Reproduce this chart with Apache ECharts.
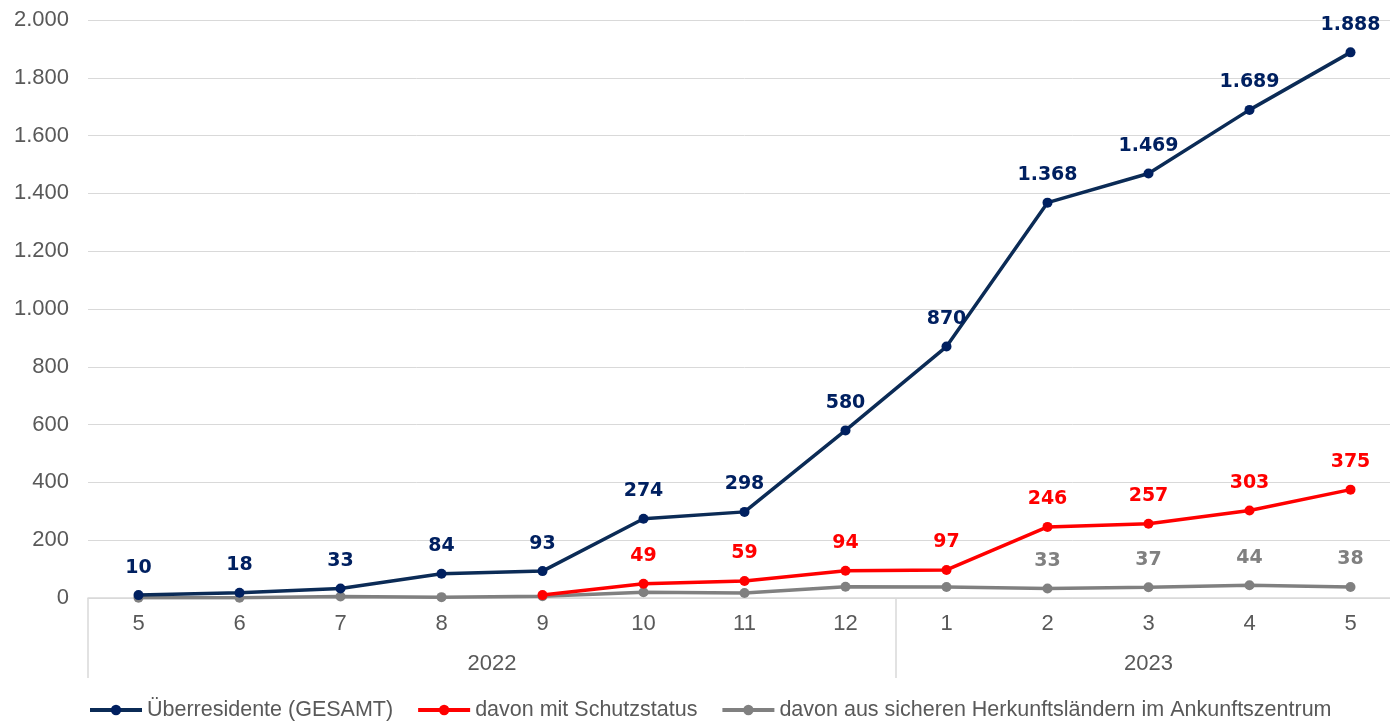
<!DOCTYPE html>
<html>
<head>
<meta charset="utf-8">
<script src="https://cdn.jsdelivr.net/npm/echarts@6/dist/echarts.min.js"></script>
<style>html,body{margin:0;padding:0;background:#fff;overflow:hidden;width:1390px;height:721px;}#c{width:1404px;height:721px;}</style>
</head>
<body>
<div id="c"></div>
<script>
const months = ['5','6','7','8','9','10','11','12','1','2','3','4','5'];
const years = [{label:'2022', pos:3.5},{label:'2023', pos:10}];
const gesamt = [10,18,33,84,93,274,298,580,870,1368,1469,1689,1888];
const schutz = [null,null,null,null,10,49,59,94,97,246,257,303,375];
const sicher = [1,1,5,3,6,20,17,39,38,33,37,44,38];
const yTicks = [0,200,400,600,800,1000,1200,1400,1600,1800,2000];

function fmtDE(v){return String(v).replace(/\B(?=(\d{3})+(?!\d))/g,'.');}
const FONT = "'Liberation Sans',Arial,sans-serif";
const BFONT = "'DejaVu Sans',sans-serif";
const chart = echarts.init(document.getElementById('c'));
const yearMap = {}; years.forEach(y=>{yearMap[y.pos]=y.label;});

chart.setOption({
  animation:false,
  grid:{left:88,right:0,top:20,bottom:123,containLabel:false},
  xAxis:[{
    type:'category', data:months, boundaryGap:true,
    axisLine:{show:true,lineStyle:{color:'#d9d9d9',width:1.5}},
    axisTick:{show:true,length:80,interval:function(i){return i===0||i===8;},lineStyle:{color:'#d9d9d9',width:1.5}},
    axisLabel:{color:'#595959',fontSize:22,fontFamily:FONT,margin:15}
  },{
    type:'value', min:-0.5, max:12.5, interval:0.5, position:'bottom', offset:40,
    axisLine:{show:false}, axisTick:{show:false}, splitLine:{show:false},
    axisLabel:{color:'#595959',fontSize:22,fontFamily:FONT,margin:15,showMinLabel:true,showMaxLabel:true,
      formatter:function(v){return yearMap[v]||'';}}
  }],
  yAxis:{
    type:'value', min:yTicks[0], max:yTicks[yTicks.length-1], interval:200,
    axisLine:{show:false}, axisTick:{show:false},
    splitLine:{lineStyle:{color:'#d9d9d9',width:1}},
    axisLabel:{color:'#595959',fontSize:22,fontFamily:FONT,margin:19,formatter:fmtDE}
  },
  legend:{
    left:83, bottom:0, padding:[5,5,0,5], itemWidth:52, itemHeight:13, itemGap:23,
    lineStyle:{width:4},
    textStyle:{color:'#595959',fontSize:21.5,fontFamily:FONT},
    data:['Überresidente (GESAMT)','davon mit Schutzstatus','davon aus sicheren Herkunftsländern im Ankunftszentrum']
  },
  series:[{
    name:'davon aus sicheren Herkunftsländern im Ankunftszentrum', type:'line', data:sicher,
    symbol:'circle', symbolSize:10, z:1,
    lineStyle:{color:'#808080',width:3.5}, itemStyle:{color:'#808080'},
    label:{show:true,position:'top',distance:13,color:'#808080',fontWeight:'bold',fontSize:19,fontFamily:BFONT,
      formatter:function(p){return p.dataIndex>=9?fmtDE(p.value):'';}}
  },{
    name:'davon mit Schutzstatus', type:'line', data:schutz,
    symbol:'circle', symbolSize:10, z:2,
    lineStyle:{color:'#ff0000',width:3.5}, itemStyle:{color:'#ff0000'},
    label:{show:true,position:'top',distance:13,color:'#ff0000',fontWeight:'bold',fontSize:19,fontFamily:BFONT,
      formatter:function(p){return p.dataIndex>=5?fmtDE(p.value):'';}}
  },{
    name:'Überresidente (GESAMT)', type:'line', data:gesamt,
    symbol:'circle', symbolSize:10, z:3,
    lineStyle:{color:'#0b2b56',width:3.5}, itemStyle:{color:'#002060'},
    label:{show:true,position:'top',distance:13,color:'#002060',fontWeight:'bold',fontSize:19,fontFamily:BFONT,
      formatter:function(p){return fmtDE(p.value);}}
  }]
});
</script>
</body>
</html>
